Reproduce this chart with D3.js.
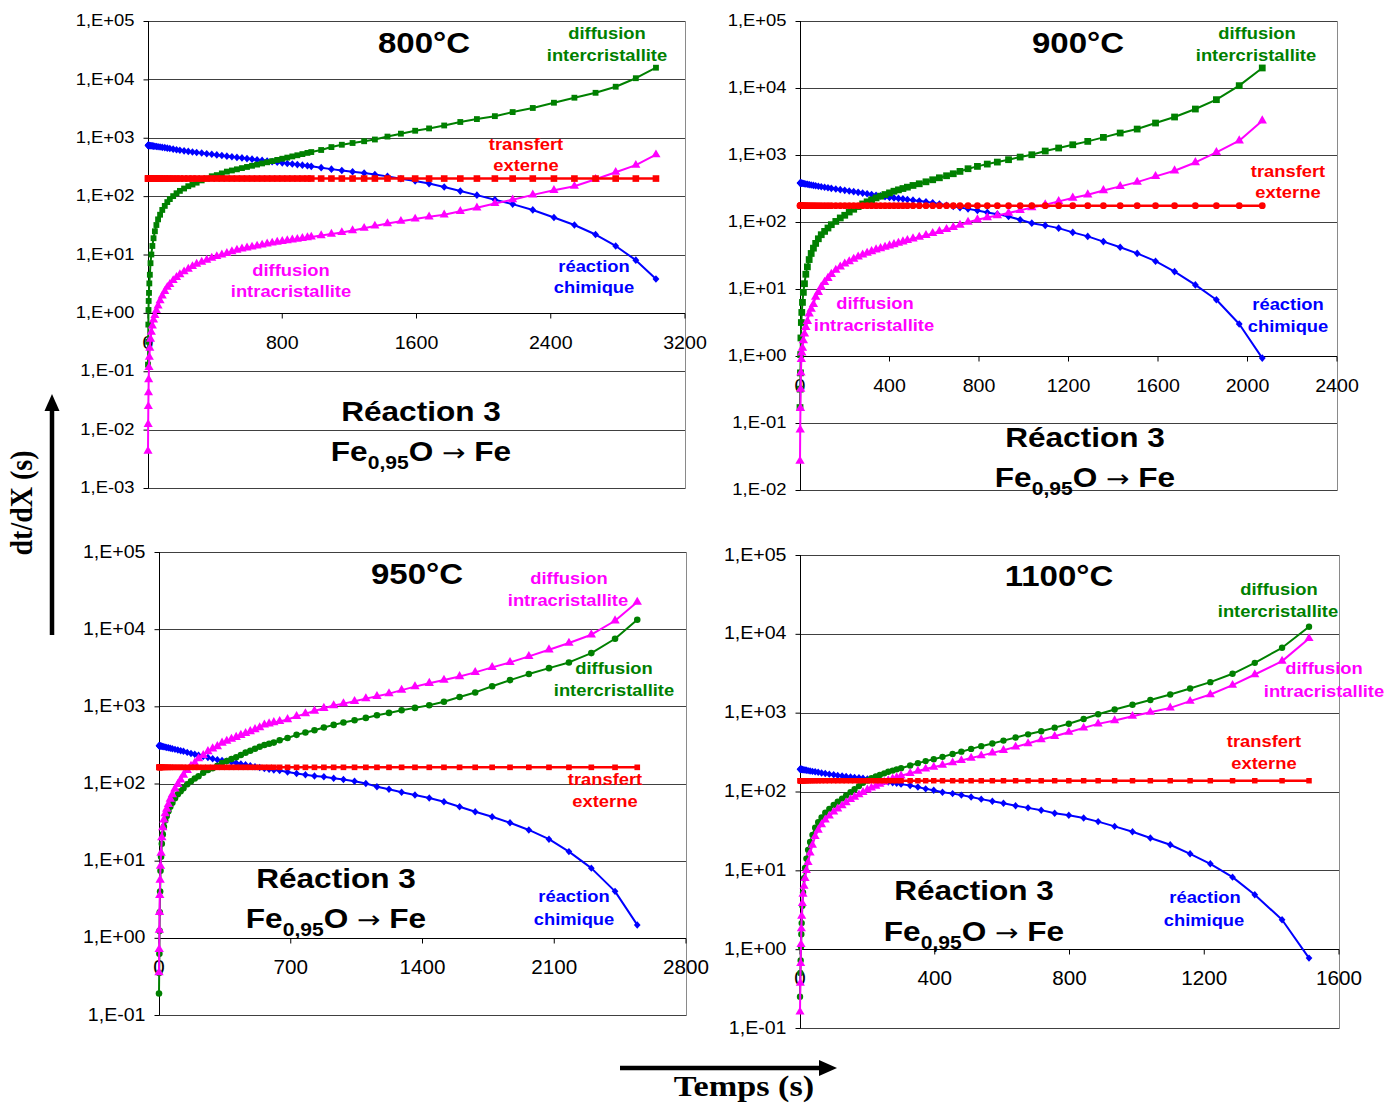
<!DOCTYPE html>
<html><head><meta charset="utf-8">
<script src="https://cdn.jsdelivr.net/npm/d3@7"></script>
<style>
body{margin:0;background:#fff}
svg{display:block}
text{font-family:"Liberation Sans",Arial,sans-serif}
</style>
</head><body>
<svg id="c" width="1397" height="1106"></svg>
<script>
// ---------------- DATA ----------------
const seriesNames = ["réaction chimique", "transfert externe", "diffusion intercristallite", "diffusion intracristallite"];

// 800 °C
const time800 = [0,1,2,3,4,6,8,11,15,20, 26,33,41,50,60,72,85,100,115,130, 150,170,190,215,240,265,290,320,350,380,
  410,440,470,500,530,560,590,620,650,680, 710,740,770,800,830,860,890,920,950,973, 1032,1093,1155,1219,1288,1352,1427,1507,1592,1675,
  1765,1861,1960,2067,2173,2293,2419,2541,2667,2787, 2907,3027];
const reaction800 = [741,741,740,739,738,737,736,734,731,728, 724,719,714,708,701,693,685,676,664,653, 638,624,610,596,583,571,560,547,533,521,
  508,497,484,473,461,451,440,430,419,409, 398,389,380,372,363,355,347,339,331,324, 307,290,275,262,248,234,218,198,182,164,
  143,122,104,87,73,58,43,32,22,14, 8,3.8];
const transfert800 = [200,200,200,200,200,200,200,200,200,200, 200,200,200,200,200,200,200,200,200,200, 200,200,200,200,200,200,200,200,200,200,
  200,200,200,200,200,200,200,200,200,200, 200,200,200,200,200,200,200,200,200,200, 200,200,200,200,200,200,200,200,200,200,
  200,200,200,200,200,200,200,200,200,200, 200,200];
const inter800 = [0.13,0.32,0.63,1.12,1.6,2.2,3.2,4.5,7.1,10, 14,19,25,32,40,48,58,68,79,89, 100,112,123,135,148,158,170,186,200,219,
  229,245,263,275,288,302,316,331,347,363, 380,398,417,437,457,479,501,525,550,569, 617,692,759,813,871,933,1047,1175,1318,1445,
  1622,1862,2089,2344,2754,3236,3981,4853,5888,7482, 10471,15849];
const intra800 = [0.0043,0.0123,0.025,0.043,0.072,0.117,0.174,0.25,0.355,0.47, 0.6,0.76,0.91,1.1,1.32,1.62,1.95,2.34,2.75,3.09,
  3.59,4.07,4.52,5.07,5.62,6.24,6.84,7.41,8.04,8.71, 9.27,9.86,10.5,11.2,11.9,12.5,13.0,13.5,14.0,14.6,
  15.2,15.8,16.3,16.8,17.3,17.8,18.3,18.9,19.5,20.0, 21.1,22.4,23.9,25.7,28.2,30.9,33.9,37.2,40.7,44.2,
  47.9,55,63,75,87,105,126,148,195,257, 339,513];

// 900 °C
const time900 = [0,1,2,3,4,6,8,11,15,20, 26,33,41,50,60,70,82,95,110,125, 140,160,180,200,220,240,260,280,300,320,
  340,360,380,400,420,440,460,480,505,533, 563,593,623,655,685,715,751,793,837,882, 932,984,1036,1096,1156,1219,1286,1356,1431,1507,
  1589,1674,1767,1861,1963,2066];
const reaction900 = [382,382,381,381,380,380,379,378,375,372, 369,366,361,356,352,347,341,336,330,324, 318,311,304,297,290,284,277,270,264,257,
  251,245,239,233,229,225,221,217,212,206, 200,193,185,178,171,164,157,149,139,131, 121,108,96,89,81,70,61,51,42,34,
  26,18.2,11.5,6.9,3.0,0.93];
const transfert900 = [175,175,175,175,175,175,175,175,175,175, 175,175,175,175,175,175,175,175,175,175, 175,175,175,175,175,175,175,175,175,175,
  175,175,175,175,175,175,175,175,175,175, 175,175,175,175,175,175,175,175,175,175, 175,175,175,175,175,175,175,175,175,175,
  175,175,175,175,175,175];
const inter900 = [0.17,0.32,0.56,1.05,1.86,3.16,4.47,6.31,8.91,12.0, 16.6,21.4,27.5,33.9,40.7,47.9,56.2,64.6,72.4,81.3,
  91.2,102,115,126,141,155,170,186,200,214, 229,243,257,272,288,302,316,331,351,372,
  398,427,457,490,525,569,624,676,732,784, 851,931,1009,1146,1271,1422,1596,1832,2128,2438,
  3000,3690,4853,6699,10839,19907];
const intra900 = [0.027,0.079,0.166,0.32,0.56,0.89,1.12,1.32,1.70,2.14, 2.69,3.31,4.27,5.01,5.89,7.59,8.91,10.7,12.6,14.5,
  16.6,19.1,21.4,23.7,25.7,27.9,30.2,32.4,34.3,36.3, 38.5,40.3,42.2,44.2,46.2,48.4,50.7,53.1,56.2,59.6,
  63.1,67.6,72.4,77.6,83.2,90,99.5,108,117,125, 136,149,165,181,203,228,255,296,340,394,
  479,582,774,1094,1633,3251];

// 950 °C
const time950 = [0,1,2,3,4,6,8,11,15,20, 26,33,41,50,60,71,85,100,115,130, 150,170,190,210,235,260,285,310,335,360,
  385,410,435,460,485,510,535,560,585,610, 641,683,731,778,826,876,928,980,1039,1099, 1158,1222,1289,1360,1436,1514,1597,1680,1770,1865,
  1965,2072,2178,2297,2423,2541];
const reaction950 = [309,309,309,308,308,307,307,306,304,301, 299,296,293,290,286,282,277,271,266,261, 253,245,239,232,224,217,209,203,199,195,
  190,185,179,175,170,165,161,156,153,150, 147,141,135,130,125,122,117,113,107,100, 91,84,77,71,65,58,50,43,37,31,
  25,19,13.1,8.0,4.0,1.47];
const transfert950 = [162,162,162,162,162,162,162,162,162,162, 162,162,162,162,162,162,162,162,162,162, 162,162,162,162,162,162,162,162,162,162,
  162,162,162,162,162,162,162,162,162,162, 162,162,162,162,162,162,162,162,162,162, 162,162,162,162,162,162,162,162,162,162,
  162,162,162,162,162,162];
const inter950 = [0.19,0.35,0.62,1.23,2.14,3.98,7.41,11.2,16.6,21.9, 27.5,33.1,38.0,43.7,50.1,56.2,64.6,72.4,79.4,87.1,
  97.7,107,116,124,138,150,158,170,184,195, 207,219,234,251,266,282,299,316,327,339,
  363,389,427,457,490,531,575,617,661,708, 767,822,891,955,1035,1148,1318,1514,1820,2188,
  2618,3126,3707,4898,7516,13243];
const intra950 = [0.355,0.71,1.26,2.14,3.55,5.62,8.51,12.6,20.0,26.9, 33.9,40.7,46.8,53.7,63.1,71.9,85.1,97.7,112,129,
  148,168,184,210,232,260,282,302,335,355, 376,398,422,447,473,501,531,575,596,617,
  638,676,741,804,871,944,1023,1084,1161,1259, 1349,1462,1622,1799,1995,2188,2438,2754,3199,3715,
  4436,5408,6607,8472,12853,22439];

// 1100 °C
const time1100 = [0,1,2,3,4,5,7,9,12,15, 19,24,30,37,45,54,64,75,87,100, 112,125,137,150,162,175,187,200,212,225,
  237,250,262,275,287,300,327,350,373,397, 423,453,479,508,538,571,604,640,677,716, 756,798,842,885,934,987,1040,1099,1158,1218,
  1284,1350,1431,1511];
const reaction1100 = [192,192,192,191,191,191,190,189,188,187, 186,184,182,180,178,175,172,169,166,163, 160,157,155,153,151,149,147,144,141,139,
  136,134,132,129,127,124,119,114,108,104, 98,94,90,85,80,75,71,66,62,58, 53,50,46,41.5,36.1,30.9,25.7,21.1,16.2,12.1,
  8.2,4.9,2.36,0.77];
const transfert1100 = [137,137,137,137,137,137,137,137,137,137, 137,137,137,137,137,137,137,137,137,137, 137,137,137,137,137,137,137,137,137,137,
  137,137,137,137,137,137,137,137,137,137, 137,137,137,137,137,137,137,137,137,137, 137,137,137,137,137,137,137,137,137,137,
  137,137,137,137];
const inter1100 = [0.25,0.5,0.72,1.07,1.55,2.14,3.55,5.25,7.94,10.7, 14.1,18.2,22.9,28.2,34.7,40.7,46.8,53.7,60.3,67.6,
  74.1,81.3,89.1,97.7,107,117,129,138,148,155, 162,170,178,184,191,197,214,229,243,257,
  275,299,320,347,376,407,442,484,531,582, 646,724,832,955,1096,1259,1445,1698,2023,2438,
  3112,4285,6653,12303];
const intra1100 = [0.16,0.37,0.66,1.15,1.82,2.63,3.8,5.0,6.3,7.9, 10,12.6,16.6,20.9,26.9,32.4,38.0,43.7,49.0,55.0,
  60.3,66.1,72.4,79.4,85.1,91.2,97.7,105,111,117, 124,132,138,145,151,158,170,182,193,204,
  216,232,248,266,285,309,333,368,406,456, 501,565,641,721,794,902,1014,1151,1400,1698,
  2234,3048,4508,8750];

// tick values
const xTicks800 = [0,800,1600,2400,3200];
const xTicks900 = [0,400,800,1200,1600,2000,2400];
const xTicks950 = [0,700,1400,2100,2800];
const xTicks1100 = [0,400,800,1200,1600];
const yRange800 = [1e-3, 1e5], yRange900 = [1e-2, 1e5], yRange950 = [1e-1, 1e5], yRange1100 = [1e-1, 1e5];
const temperatures = ["800°C", "900°C", "950°C", "1100°C"];

// ---------------- LAYOUT ----------------
const C = {blue:"#0000ff", red:"#ff0000", green:"#008000", mag:"#ff00ff"};
const diamond = {draw(ctx, size){ const r = Math.sqrt(size)/2*1.15; const w = r*0.9;
  ctx.moveTo(0,-r); ctx.lineTo(w,0); ctx.lineTo(0,r); ctx.lineTo(-w,0); ctx.closePath(); }};

const panels = [
  {title:temperatures[0], time:time800, blue:reaction800, red:transfert800, green:inter800, mag:intra800,
   l:148, r:685, t:21, b:488, ydom:yRange800, xmax:3200, xticks:xTicks800, yFont:16, ySx:1.15, xFont:18.5,
   sym:{blue:[diamond,44], red:[d3.symbolSquare,44], green:[d3.symbolSquare,34], mag:[d3.symbolTriangle,36]},
   titlePos:[424,53], react:[421,421], formula:[421,461],
   labels:[["diffusion",607,39,"green"],["intercristallite",607,61,"green"],["transfert",526,150,"red"],["externe",526,171,"red"],
           ["diffusion",291,276,"mag"],["intracristallite",291,297,"mag"],["réaction",594,272,"blue"],["chimique",594,293,"blue"]]},
  {title:temperatures[1], time:time900, blue:reaction900, red:transfert900, green:inter900, mag:intra900,
   l:800, r:1337, t:21, b:490, ydom:yRange900, xmax:2400, xticks:xTicks900, yFont:16, ySx:1.15, xFont:18.5,
   sym:{blue:[diamond,44], red:[d3.symbolCircle,36], green:[d3.symbolSquare,46], mag:[d3.symbolTriangle,38]},
   titlePos:[1078,53], react:[1085,447], formula:[1085,487],
   labels:[["diffusion",1257,39,"green"],["intercristallite",1256,61,"green"],["transfert",1288,177,"red"],["externe",1288,198,"red"],
           ["diffusion",875,309,"mag"],["intracristallite",874,331,"mag"],["réaction",1288,310,"blue"],["chimique",1288,332,"blue"]]},
  {title:temperatures[2], time:time950, blue:reaction950, red:transfert950, green:inter950, mag:intra950,
   l:159, r:686, t:552, b:1015, ydom:yRange950, xmax:2800, xticks:xTicks950, yFont:17.5, ySx:1.12, xFont:19.5,
   sym:{blue:[diamond,42], red:[d3.symbolSquare,32], green:[d3.symbolCircle,34], mag:[d3.symbolTriangle,38]},
   titlePos:[417,584], react:[336,888], formula:[336,928],
   labels:[["diffusion",569,584,"mag"],["intracristallite",568,606,"mag"],["diffusion",614,674,"green"],["intercristallite",614,696,"green"],
           ["transfert",605,785,"red"],["externe",605,807,"red"],["réaction",574,902,"blue"],["chimique",574,925,"blue"]]},
  {title:temperatures[3], time:time1100, blue:reaction1100, red:transfert1100, green:inter1100, mag:intra1100,
   l:800, r:1339, t:555, b:1028, ydom:yRange1100, xmax:1600, xticks:xTicks1100, yFont:17.5, ySx:1.12, xFont:19.5,
   sym:{blue:[diamond,42], red:[d3.symbolSquare,30], green:[d3.symbolCircle,32], mag:[d3.symbolTriangle,36]},
   titlePos:[1059,586], react:[974,900], formula:[974,941],
   labels:[["diffusion",1279,595,"green"],["intercristallite",1278,617,"green"],["diffusion",1324,674,"mag"],["intracristallite",1324,697,"mag"],
           ["transfert",1264,747,"red"],["externe",1264,769,"red"],["réaction",1205,903,"blue"],["chimique",1204,926,"blue"]]}
];

const svg = d3.select("#c");
svg.append("rect").attr("width",1397).attr("height",1106).attr("fill","#fff");

function stext(g, x, y, str, o) {
  const t = g.append("text")
    .attr("transform", `translate(${x},${y}) scale(${o.sx||1},1)` + (o.rot ? ` rotate(${o.rot})` : ""))
    .attr("text-anchor", o.anchor || "middle")
    .style("font-size", o.size + "px")
    .style("font-weight", o.weight || "normal")
    .style("fill", o.fill || "#000");
  if (o.family) t.style("font-family", o.family);
  if (str != null) t.text(str);
  return t;
}
const fmtE = d => { const e = Math.round(Math.log10(d)); return "1,E" + (e < 0 ? "-" : "+") + String(Math.abs(e)).padStart(2, "0"); };

panels.forEach(p => {
  const x = d3.scaleLinear().domain([0, p.xmax]).range([p.l, p.r]);
  const y = d3.scaleLog().domain(p.ydom).range([p.b, p.t]);
  const g = svg.append("g");
  const e0 = Math.round(Math.log10(p.ydom[0])), e1 = Math.round(Math.log10(p.ydom[1]));
  const decades = d3.range(e0, e1 + 1).map(e => Math.pow(10, e));

  // gridlines
  g.selectAll(null).data(decades).join("line")
    .attr("x1", p.l).attr("x2", p.r)
    .attr("y1", d => Math.round(y(d)) + 0.5).attr("y2", d => Math.round(y(d)) + 0.5)
    .attr("stroke", "#404040").attr("stroke-width", 1.2);
  // right border
  g.append("line").attr("x1", p.r + 0.5).attr("x2", p.r + 0.5).attr("y1", p.t).attr("y2", p.b + 1)
    .attr("stroke", "#8a8a8a");

  // y axis
  const ya = g.append("g").attr("transform", `translate(${p.l + 0.5},0)`)
    .call(d3.axisLeft(y).tickValues(decades).tickFormat(fmtE).tickSize(5).tickSizeOuter(0).offset(0));
  ya.select(".domain").attr("stroke", "#000");
  ya.selectAll(".tick line").attr("stroke", "#000").attr("transform", "translate(0,0.5)");
  ya.selectAll("text").style("font-size", p.yFont + "px").style("font-family", "Liberation Sans, Arial, sans-serif")
    .attr("fill", "#000").attr("x", -14 / p.ySx).attr("transform", `scale(${p.ySx},1)`);

  // x axis at 1
  const y1 = Math.round(y(1));
  const xa = g.append("g").attr("transform", `translate(0,${y1 + 0.5})`)
    .call(d3.axisBottom(x).tickValues(p.xticks).tickFormat(d3.format("d")).tickSize(5).tickSizeOuter(0).offset(0));
  xa.select(".domain").attr("stroke", "#000");
  xa.selectAll(".tick line").attr("stroke", "#000");
  xa.selectAll("text").style("font-size", p.xFont + "px").style("font-family", "Liberation Sans, Arial, sans-serif")
    .attr("fill", "#000").attr("y", 22).attr("transform", "scale(1.06,1)");

  // series
  const order = [["blue", 2], ["green", 2], ["mag", 2], ["red", 2.5]];
  order.forEach(([key, w]) => {
    const pts = d3.zip(p.time, p[key]);
    g.append("path").datum(pts)
      .attr("d", d3.line().x(d => x(d[0])).y(d => y(d[1])))
      .attr("fill", "none").attr("stroke", C[key]).attr("stroke-width", w).attr("stroke-linejoin", "round");
    const [type, size] = p.sym[key];
    const sym = d3.symbol(type, size)();
    g.selectAll(null).data(pts).join("path")
      .attr("transform", d => `translate(${x(d[0])},${y(d[1])})`)
      .attr("d", sym).attr("fill", C[key]);
  });

  // texts
  stext(g, p.titlePos[0], p.titlePos[1], p.title, {size:30, weight:"bold", sx:1.1});
  p.labels.forEach(([s, lx, ly, c]) => stext(g, lx, ly, s, {size:17, weight:"bold", sx:1.08, fill:C[c]}));
  stext(g, p.react[0], p.react[1], "Réaction 3", {size:27, weight:"bold", sx:1.17});
  const f = stext(g, p.formula[0], p.formula[1], null, {size:27, weight:"bold", sx:1.17});
  f.append("tspan").text("Fe");
  f.append("tspan").text("0,95").attr("dy", 8).style("font-size", "18px");
  f.append("tspan").text("O ").attr("dy", -8);
  f.append("tspan").text("\u2192").style("font-family", "'DejaVu Sans', sans-serif").style("font-weight", "normal").style("font-size", "24px");
  f.append("tspan").text(" Fe");
});

// global axis titles + arrows
const serif = "'Liberation Serif','Times New Roman',serif";
stext(svg, 32, 503, "dt/dX (s)", {size:28, weight:"bold", sx:1.1, rot:-90, family:serif});
svg.append("line").attr("x1", 52).attr("x2", 52).attr("y1", 635).attr("y2", 408).attr("stroke", "#000").attr("stroke-width", 4.5);
svg.append("path").attr("d", "M52,394 L44.5,411 L59.5,411 Z").attr("fill", "#000");
stext(svg, 744, 1096, "Temps (s)", {size:30, weight:"bold", sx:1.14, family:serif});
svg.append("line").attr("x1", 620).attr("x2", 822).attr("y1", 1068).attr("y2", 1068).attr("stroke", "#000").attr("stroke-width", 4.5);
svg.append("path").attr("d", "M837,1068 L819,1060 L819,1076 Z").attr("fill", "#000");
</script>
</body></html>
